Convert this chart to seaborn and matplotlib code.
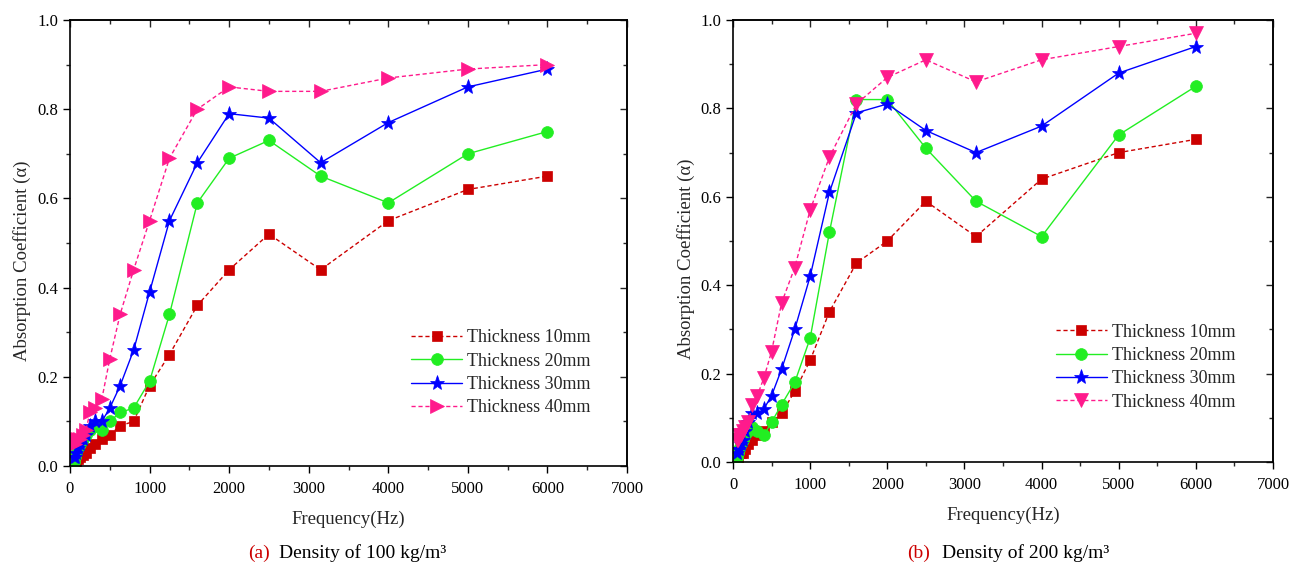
import numpy as np
import pandas as pd
import matplotlib
matplotlib.use("Agg")
import matplotlib.pyplot as plt
import seaborn as sns
from matplotlib.ticker import MultipleLocator

freq = [50, 63, 80, 100, 125, 160, 200, 250, 315, 400, 500, 630, 800,
        1000, 1250, 1600, 2000, 2500, 3150, 4000, 5000, 6000]

# Density 100 kg/m3
a_10 = [0.00, 0.01, 0.01, 0.015, 0.02, 0.025, 0.03, 0.04, 0.05, 0.06, 0.07, 0.09, 0.10,
        0.18, 0.25, 0.36, 0.44, 0.52, 0.44, 0.55, 0.62, 0.65]
a_20 = [0.01, 0.02, 0.03, 0.04, 0.05, 0.06, 0.07, 0.08, 0.09, 0.08, 0.10, 0.12, 0.13,
        0.19, 0.34, 0.59, 0.69, 0.73, 0.65, 0.59, 0.70, 0.75]
a_30 = [0.02, 0.02, 0.03, 0.04, 0.05, 0.06, 0.07, 0.09, 0.10, 0.10, 0.13, 0.18, 0.26,
        0.39, 0.55, 0.68, 0.79, 0.78, 0.68, 0.77, 0.85, 0.89]
a_40 = [0.05, 0.05, 0.06, 0.06, 0.06, 0.07, 0.08, 0.12, 0.13, 0.15, 0.24, 0.34, 0.44,
        0.55, 0.69, 0.80, 0.85, 0.84, 0.84, 0.87, 0.89, 0.90]

# Density 200 kg/m3
b_10 = [0.01, 0.01, 0.02, 0.02, 0.02, 0.03, 0.04, 0.05, 0.06, 0.07, 0.09, 0.11, 0.16,
        0.23, 0.34, 0.45, 0.50, 0.59, 0.51, 0.64, 0.70, 0.73]
b_20 = [0.01, 0.02, 0.03, 0.04, 0.05, 0.06, 0.07, 0.08, 0.07, 0.06, 0.09, 0.13, 0.18,
        0.28, 0.52, 0.82, 0.82, 0.71, 0.59, 0.51, 0.74, 0.85]
b_30 = [0.02, 0.03, 0.03, 0.04, 0.05, 0.07, 0.09, 0.11, 0.11, 0.12, 0.15, 0.21, 0.30,
        0.42, 0.61, 0.79, 0.81, 0.75, 0.70, 0.76, 0.88, 0.94]
b_40 = [0.05, 0.05, 0.06, 0.06, 0.07, 0.08, 0.09, 0.13, 0.15, 0.19, 0.25, 0.36, 0.44,
        0.57, 0.69, 0.81, 0.87, 0.91, 0.86, 0.91, 0.94, 0.97]

labels = ["Thickness 10mm", "Thickness 20mm", "Thickness 30mm", "Thickness 40mm"]
x_ticks = [0, 1000, 2000, 3000, 4000, 5000, 6000, 7000]
y_ticks = [0.0, 0.2, 0.4, 0.6, 0.8, 1.0]
captions = [("(a)", "Density of 100 kg/m\u00b3"), ("(b)", "Density of 200 kg/m\u00b3")]

sns.set_theme(style="ticks")
plt.rcParams['font.family'] = ['Liberation Serif', 'DejaVu Serif']
plt.rcParams['mathtext.fontset'] = 'stix'

colors = ["#CC0000", "#22EE22", "#0000FF", "#FF1A8C"]
lstyles = [(0, (3, 2)), "-", "-", (0, (3, 2))]

fig = plt.figure(figsize=(12.99, 5.62), dpi=100)
axA = fig.add_axes([70/1299, 1 - 466/562, 557/1299, 446/562])
axB = fig.add_axes([733/1299, 1 - 462/562, 540/1299, 442/562])

def draw(ax, series, markers, msizes, legend_anchor):
    for vals, lab, c, ls, mk, ms in zip(series, labels, colors, lstyles, markers, msizes):
        df = pd.DataFrame({"f": freq, "a": vals})
        sns.lineplot(data=df, x="f", y="a", ax=ax, color=c, linestyle=ls, lw=1.0,
                     marker=mk, markersize=ms, markeredgecolor=c, markeredgewidth=0.5,
                     label=lab)
    ax.set_xlim(0, 7000)
    ax.set_ylim(0, 1.0)
    ax.set_xticks(x_ticks)
    ax.set_yticks(y_ticks)
    ax.set_xticklabels([str(t) for t in x_ticks])
    ax.set_yticklabels([f"{t:.1f}" for t in y_ticks])
    ax.xaxis.set_minor_locator(MultipleLocator(500))
    ax.yaxis.set_minor_locator(MultipleLocator(0.1))
    ax.tick_params(axis="both", which="major", direction="out", length=5, width=1,
                   labelsize=12, colors="black")
    ax.tick_params(axis="x", which="major", pad=6)
    ax.tick_params(axis="both", which="minor", direction="out", length=3, width=1)
    for s in ax.spines.values():
        s.set_linewidth(1.2)
        s.set_color("black")
    # inward ticks on top and right
    top = ax.secondary_xaxis("top")
    top.set_xticks(x_ticks)
    top.xaxis.set_minor_locator(MultipleLocator(500))
    top.tick_params(axis="x", which="major", direction="in", length=5, width=1, labeltop=False)
    top.tick_params(axis="x", which="minor", direction="in", length=3, width=1)
    right = ax.secondary_yaxis("right")
    right.set_yticks(y_ticks)
    right.yaxis.set_minor_locator(MultipleLocator(0.1))
    right.tick_params(axis="y", which="major", direction="in", length=5, width=1, labelright=False)
    right.tick_params(axis="y", which="minor", direction="in", length=3, width=1)
    ax.set_xlabel("Frequency(Hz)", fontsize=13.5, labelpad=10)
    ax.set_ylabel("Absorption Coefficient (\u03b1)", fontsize=13.5)
    ax.yaxis.set_label_coords(-0.07, 0.46)
    ax.legend(loc="lower left", bbox_to_anchor=legend_anchor, frameon=False,
              fontsize=13, handlelength=2.8, labelspacing=0.35, borderaxespad=0,
              handletextpad=0.3)
    ax.grid(False)

draw(axA, [a_10, a_20, a_30, a_40], ["s", "o", "*", ">"], [7.5, 8.5, 11, 9.5], (0.60, 0.095))
draw(axB, [b_10, b_20, b_30, b_40], ["s", "o", "*", "v"], [7.5, 8.5, 11, 9.5], (0.585, 0.10))

# captions
fig.text(270/1299, 1 - 553/562, captions[0][0], color="#CC0000", fontsize=14,
         ha="right", va="center")
fig.text(279/1299, 1 - 553/562, captions[0][1], color="black", fontsize=14,
         ha="left", va="center")
fig.text(930/1299, 1 - 553/562, captions[1][0], color="#CC0000", fontsize=14,
         ha="right", va="center")
fig.text(942/1299, 1 - 553/562, captions[1][1], color="black", fontsize=14,
         ha="left", va="center")

fig.savefig("out.png", dpi=100, facecolor="white")
